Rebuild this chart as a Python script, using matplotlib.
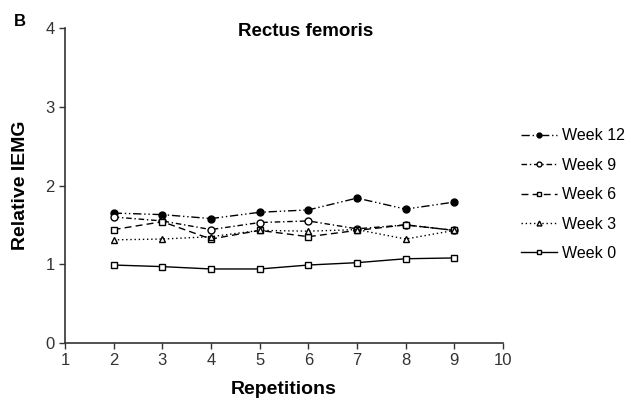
import matplotlib
matplotlib.use("Agg")
import matplotlib.pyplot as plt

plt.rcParams["font.family"] = ["Liberation Sans", "DejaVu Sans"]

# Relative IEMG per repetition, rectus femoris
reps = [2, 3, 4, 5, 6, 7, 8, 9]
week12 = [1.65, 1.63, 1.58, 1.66, 1.69, 1.84, 1.70, 1.79]
week9 = [1.60, 1.55, 1.44, 1.53, 1.55, 1.45, 1.50, 1.43]
week6 = [1.44, 1.54, 1.32, 1.43, 1.35, 1.43, 1.50, 1.43]
week3 = [1.31, 1.32, 1.35, 1.43, 1.42, 1.44, 1.32, 1.43]
week0 = [0.99, 0.97, 0.94, 0.94, 0.99, 1.02, 1.07, 1.08]

labels = ["Week 12", "Week 9", "Week 6", "Week 3", "Week 0"]

fig = plt.figure(figsize=(6.31, 4.08), dpi=100)
ax = fig.add_axes([65 / 631, 65 / 408, 438 / 631, 315 / 408])

kw = dict(color="black", linewidth=1.0, markersize=5, markeredgewidth=1.0)
ax.plot(reps, week12, marker="o", markerfacecolor="black", dashes=(6, 2, 1, 2, 1, 2), label=labels[0], **kw)
ax.plot(reps, week9, marker="o", markerfacecolor="white", dashes=(4, 2, 1, 2), label=labels[1], **kw)
ax.plot(reps, week6, marker="s", markerfacecolor="white", dashes=(5, 3), label=labels[2], **kw)
ax.plot(reps, week3, marker="^", markerfacecolor="white", dashes=(1, 2), label=labels[3], **kw)
ax.plot(reps, week0, marker="s", markerfacecolor="white", linestyle="-", label=labels[4], **kw)

ax.set_xlim(1, 10)
ax.set_ylim(0, 4)
ax.set_xticks(range(1, 11))
ax.set_yticks(range(0, 5))
ax.tick_params(direction="out", length=4, width=1, labelsize=12, colors="#333333")
for side in ["top", "right"]:
    ax.spines[side].set_visible(False)
for side in ["left", "bottom"]:
    ax.spines[side].set_color("#333333")
    ax.spines[side].set_linewidth(1.2)

ax.set_xlabel("Repetitions", fontsize=14, fontweight="bold", labelpad=9)
ax.set_ylabel("Relative IEMG", fontsize=14, fontweight="bold", labelpad=12)

fig.text(306 / 631, 1 - 32 / 408, "Rectus femoris", ha="center", va="center",
         fontsize=13.5, fontweight="bold")
fig.text(20 / 631, 1 - 22 / 408, "B", ha="center", va="center",
         fontsize=12, fontweight="bold")

fig.legend(loc="upper left", bbox_to_anchor=(515 / 631, 1 - 122 / 408),
           frameon=False, fontsize=11.5, handlelength=2.2, handletextpad=0.35,
           labelspacing=0.9, markerscale=0.7, borderaxespad=0)

fig.savefig("out.png", dpi=100)
